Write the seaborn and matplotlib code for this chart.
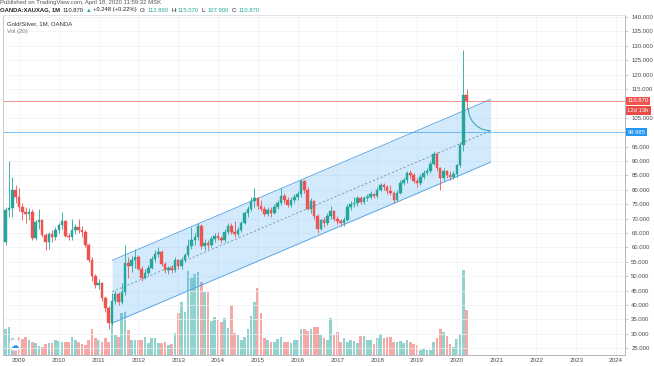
import numpy as np
import pandas as pd
import matplotlib
matplotlib.use("Agg")
import matplotlib.pyplot as plt
import matplotlib.transforms as mtransforms
import seaborn as sns

sns.set_theme(style="white")
plt.rcParams['font.family'] = ['Liberation Sans', 'DejaVu Sans']

# OANDA XAU/XAG monthly candles, Sep 2008 .. Apr 2020
start_month = '2008-09-01'

open_ = [62.0, 73.0, 73.8, 80.0,
         77.6, 74.1, 72.4, 71.6, 72.4, 63.2, 68.8, 69.4, 64.3, 62.0, 64.8, 63.6,
         66.0, 67.8, 69.0, 64.0, 63.6, 66.0, 67.2, 66.2, 65.2, 60.8, 55.6, 50.0,
         47.0, 47.8, 42.3, 39.0, 33.8, 41.5, 43.8, 41.2, 44.5, 54.5, 53.5, 55.5,
         56.8, 52.5, 49.5, 51.0, 53.0, 56.0, 57.8, 58.3, 54.2, 52.0, 52.8, 52.0,
         55.5, 53.5, 55.6, 57.3, 60.5, 62.5, 63.5, 67.5, 60.5, 61.5, 60.8, 63.0,
         64.0, 63.2, 62.5, 65.5, 67.5, 65.5, 64.5, 66.0, 68.5, 71.8, 73.5, 76.2,
         77.0, 74.5, 73.2, 71.5, 73.0, 71.8, 74.0, 75.5, 78.0, 76.5, 74.8, 76.5,
         77.5, 78.5, 83.0, 80.0, 73.5, 76.0, 71.0, 66.5, 69.5, 68.5, 71.0, 72.5,
         70.0, 69.0, 68.5, 69.5, 74.0, 75.0, 75.5, 77.0, 75.8, 77.0, 77.5, 78.5,
         77.8, 80.0, 81.5, 80.8, 79.5, 79.0, 76.5, 79.0, 82.5, 83.5, 86.0, 85.0,
         83.0, 82.3, 84.5, 86.0, 86.5, 89.0, 92.5, 87.5, 84.0, 86.5, 85.0, 84.5,
         85.5, 88.5, 95.5, 112.86]

close_ = [73.0, 73.8, 80.0, 77.6,
          74.1, 72.4, 71.6, 72.4, 63.2, 68.8, 69.4, 64.3, 62.0, 64.8, 63.6, 66.0,
          67.8, 69.0, 64.0, 63.6, 66.0, 67.2, 66.2, 65.2, 60.8, 55.6, 50.0, 47.0,
          47.8, 42.3, 39.0, 33.8, 41.5, 43.8, 41.2, 44.5, 54.5, 53.5, 55.5, 56.8,
          52.5, 49.5, 51.0, 53.0, 56.0, 57.8, 58.3, 54.2, 52.0, 52.8, 52.0, 55.5,
          53.5, 55.6, 57.3, 60.5, 62.5, 63.5, 67.5, 60.5, 61.5, 60.8, 63.0, 64.0,
          63.2, 62.5, 65.5, 67.5, 65.5, 64.5, 66.0, 68.5, 71.8, 73.5, 76.2, 77.0,
          74.5, 73.2, 71.5, 73.0, 71.8, 74.0, 75.5, 78.0, 76.5, 74.8, 76.5, 77.5,
          78.5, 83.0, 80.0, 73.5, 76.0, 71.0, 66.5, 69.5, 68.5, 71.0, 72.5, 70.0,
          69.0, 68.5, 69.5, 74.0, 75.0, 75.5, 77.0, 75.8, 77.0, 77.5, 78.5, 77.8,
          80.0, 81.5, 80.8, 79.5, 79.0, 76.5, 79.0, 82.5, 83.5, 86.0, 85.0, 83.0,
          82.3, 84.5, 86.0, 86.5, 89.0, 92.5, 87.5, 84.0, 86.5, 85.0, 84.5, 85.5,
          88.5, 95.5, 112.86, 110.87]

high_ = [74.0, 90.0, 84.5, 81.6,
         80.5, 75.5, 74.0, 73.8, 73.5, 69.5, 73.5, 70.0, 65.0, 65.5, 66.0, 67.0,
         68.5, 72.4, 69.5, 65.0, 70.0, 68.0, 70.0, 67.5, 66.0, 61.5, 56.5, 50.8,
         49.0, 48.0, 43.0, 39.8, 44.0, 45.0, 44.5, 47.5, 60.8, 56.5, 57.0, 59.5,
         57.5, 53.5, 52.5, 54.0, 57.0, 59.0, 60.0, 59.0, 55.0, 53.5, 54.0, 56.5,
         56.0, 56.5, 58.0, 63.0, 67.2, 65.0, 68.5, 68.0, 63.0, 62.5, 64.0, 65.0,
         65.5, 64.0, 66.5, 68.5, 68.5, 69.0, 67.0, 69.0, 72.5, 74.5, 77.5, 80.5,
         77.5, 76.5, 74.5, 74.0, 74.2, 75.0, 76.5, 80.5, 79.0, 77.5, 77.5, 78.5,
         79.5, 83.8, 83.5, 81.0, 77.0, 76.5, 71.5, 70.0, 70.5, 72.0, 74.5, 73.0,
         71.0, 70.0, 70.5, 75.0, 76.0, 77.5, 78.0, 77.8, 78.0, 78.5, 79.5, 79.0,
         81.0, 82.5, 82.2, 81.5, 81.6, 79.5, 80.0, 83.5, 84.5, 86.5, 87.0, 86.0,
         84.0, 85.5, 86.8, 87.5, 90.0, 93.5, 93.0, 88.0, 87.5, 87.0, 86.5, 86.5,
         89.0, 96.5, 128.5, 115.07]

low_ = [61.0, 70.5, 70.7, 75.5,
        72.5, 69.5, 68.3, 69.5, 62.5, 62.5, 66.5, 63.5, 59.1, 59.5, 62.0, 62.5,
        65.0, 66.5, 63.5, 62.5, 62.5, 64.5, 65.0, 63.5, 60.0, 55.0, 48.5, 46.0,
        45.5, 41.5, 37.5, 31.5, 33.0, 40.5, 40.0, 40.5, 43.5, 49.5, 51.5, 53.0,
        52.0, 48.5, 49.0, 50.5, 52.5, 55.0, 56.5, 53.5, 51.0, 50.8, 51.0, 51.5,
        52.5, 52.5, 55.0, 56.5, 59.5, 61.0, 62.5, 59.5, 59.0, 59.5, 60.0, 62.0,
        62.5, 61.5, 62.0, 64.5, 64.8, 63.5, 63.8, 65.5, 68.0, 70.5, 72.5, 74.0,
        73.5, 72.5, 70.8, 71.0, 70.5, 71.5, 73.5, 74.8, 75.5, 74.0, 74.0, 75.5,
        76.5, 77.5, 79.0, 73.0, 72.0, 70.0, 65.0, 66.0, 67.0, 67.8, 70.0, 69.0,
        68.0, 67.5, 67.5, 69.0, 73.0, 74.0, 74.5, 75.0, 75.0, 76.0, 76.8, 77.0,
        77.0, 79.5, 79.8, 78.5, 78.2, 75.3, 76.0, 78.5, 81.5, 82.5, 84.0, 82.5,
        81.0, 81.5, 83.8, 85.0, 86.0, 88.5, 86.5, 79.9, 83.0, 84.0, 83.5, 83.8,
        84.5, 88.0, 93.5, 107.9]

volume = [26, 28, 17, 15,
          18, 16, 18, 15, 13, 12, 9, 8, 11, 12, 12, 15,
          14, 13, 13, 13, 18, 15, 13, 11, 10, 15, 26, 17,
          15, 13, 17, 13, 35, 20, 18, 42, 43, 25, 15, 15,
          15, 15, 18, 12, 17, 17, 12, 12, 13, 10, 11, 22,
          42, 53, 43, 84, 77, 81, 83, 73, 63, 63, 34, 38,
          35, 33, 37, 27, 50, 22, 20, 15, 18, 26, 39, 53,
          67, 42, 17, 15, 13, 13, 16, 18, 13, 13, 12, 15,
          15, 26, 26, 24, 26, 28, 28, 20, 17, 15, 37, 20,
          23, 13, 17, 13, 15, 14, 12, 19, 19, 15, 15, 11,
          17, 21, 17, 18, 18, 13, 13, 14, 12, 15, 13, 11,
          10, 5, 6, 5, 5, 13, 17, 26, 23, 19, 11, 8,
          16, 21, 85, 45]

years = list(range(2009, 2025))
price_ticks = [t for t in range(25, 141, 5) if t not in (100, 110)]

last_price = 110.870
level_price = 99.985
countdown = '12d 13h'

# hand-drawn regression channel and arc on the chart
chan_t = [2011.34, 2020.85]
chan_mid = [44.6, 100.5]
chan_half = 10.9
arc_start = (2020.29, 108.3)
arc_end = (2020.85, 100.5)

UP, DOWN, BLUE = '#26a69a', '#ef5350', '#2196f3'

months = pd.date_range(start_month, periods=len(close_), freq='MS')
df = pd.DataFrame({
    't': months.year + (months.month - 1) / 12,
    'open': open_, 'close': close_, 'high': high_, 'low': low_, 'vol': volume,
})
df['dir'] = np.where(df['close'] >= df['open'], 'up', 'down')
colors = df['dir'].map({'up': UP, 'down': DOWN})

W, H = 654, 366
fig = plt.figure(figsize=(W / 100, H / 100), dpi=100)
rect = [3 / W, 11 / H, 622 / W, 340 / H]
xlim = (2008.598, 2024.226)

# volume pane underneath
ax_vol = fig.add_axes(rect)
sns.barplot(data=df, x='t', y='vol', hue='dir', palette={'up': UP, 'down': DOWN},
            native_scale=True, dodge=False, width=0.8, errorbar=None, legend=False,
            saturation=1, alpha=0.5, linewidth=0, ax=ax_vol)
ax_vol.set_xlim(xlim)
ax_vol.set_ylim(0, 340)
ax_vol.set_axis_off()

# price pane
ax = fig.add_axes(rect)
ax.patch.set_visible(False)
ax.set_xlim(xlim)
ax.set_ylim(22.64, 140.69)

ax.set_yticks(price_ticks)
ax.set_yticklabels([f'{v:.3f}' for v in price_ticks])
ax.yaxis.tick_right()
ax.set_xticks(years)
ax.set_xticklabels([str(y) for y in years])
ax.tick_params(axis='y', labelsize=4.3, length=2, width=0.5, pad=2.5,
               color='#b2b5be', labelcolor='#4a4a4a')
ax.tick_params(axis='x', labelsize=4.5, length=0, pad=2.5, labelcolor='#4a4a4a')
ax.grid(True, color='#eef1f6', lw=0.5)
ax.set_axisbelow(True)
for side, c in [('left', '#c3c6ce'), ('top', '#dfe2e8'), ('right', '#b2b5be'), ('bottom', '#b2b5be')]:
    ax.spines[side].set_color(c)
    ax.spines[side].set_linewidth(0.7)
ax.set_xlabel('')
ax.set_ylabel('')

# channel
ct = np.array(chan_t)
cm = np.array(chan_mid)
ax.fill_between(ct, cm - chan_half, cm + chan_half, color=BLUE, alpha=0.2, lw=0, zorder=1)
ax.plot(ct, cm + chan_half, color='#4f9fe3', lw=0.6, zorder=2)
ax.plot(ct, cm - chan_half, color='#4f9fe3', lw=0.6, zorder=2)
ax.plot(ct, cm, color='#6f8fae', lw=0.6, ls=(0, (2.5, 2.5)), zorder=2)

# horizontal lines
ax.axhline(last_price, color=DOWN, lw=0.6, alpha=0.75, zorder=2)
ax.axhline(level_price, color=BLUE, lw=0.6, alpha=0.7, zorder=2)

# arc drawing
th = np.linspace(0, np.pi / 2, 40)
ax.plot(arc_end[0] - (arc_end[0] - arc_start[0]) * np.cos(th),
        arc_start[1] - (arc_start[1] - arc_end[1]) * np.sin(th),
        color='#33adbf', lw=0.8, zorder=3)

# candles
ax.vlines(df['t'], df['low'], df['high'], colors=colors, lw=0.6, zorder=4)
body_lo = df[['open', 'close']].min(axis=1)
body_h = (df['close'] - df['open']).abs()
ax.bar(df['t'], body_h, bottom=body_lo, width=0.064, color=colors,
       edgecolor=colors, linewidth=0.3, zorder=5)

# price-scale labels
trans = mtransforms.blended_transform_factory(ax.transAxes, ax.transData)
for val, txt, fc in [(last_price, '110.870', DOWN), (107.6, countdown, '#e84b48'),
                     (level_price, '99.985', BLUE)]:
    ax.text(1.004, val, txt, transform=trans, ha='left', va='center', fontsize=4.2,
            color='white', clip_on=False, zorder=10,
            bbox=dict(boxstyle='square,pad=0.3', fc=fc, ec='none'))


def fx(x):
    return x / W


def fy(y):
    return 1 - y / H


# header
fig.text(fx(0), fy(2.5), 'Published on TradingView.com, April 18, 2020 11:59:32 MSK',
         fontsize=4.3, color='#555555', va='center')

renderer = fig.canvas.get_renderer()
header = [('OANDA:XAUXAG, 1M', '#222222', 'bold', 3),
          ('110.870', '#222222', 'normal', 2),
          ('\u25b2', UP, 'normal', 1.5),
          ('+0.248 (+0.22%)', '#222222', 'normal', 3),
          ('O:', '#222222', 'normal', 1), ('112.860', UP, 'normal', 3),
          ('H:', '#222222', 'normal', 1), ('115.070', UP, 'normal', 3),
          ('L:', '#222222', 'normal', 1), ('107.900', UP, 'normal', 3),
          ('C:', '#222222', 'normal', 1), ('110.870', UP, 'normal', 0)]
cur = 0.0
for txt, col, weight, gap in header:
    t = fig.text(fx(cur), fy(10), txt, fontsize=4.2, color=col, fontweight=weight,
                 va='center', family=['Liberation Sans', 'DejaVu Sans'])
    bb = t.get_window_extent(renderer)
    cur += bb.width + gap

# pane legend
fig.text(fx(7), fy(23.5), 'Gold/Silver, 1M, OANDA', fontsize=4.3, color='#333333', va='center')
fig.text(fx(7), fy(31), 'Vol (20)', fontsize=4.3, color='#777777', va='center')

# small logo
fig.text(fx(15), fy(345), '\u2601', fontsize=6, color=BLUE, ha='center', va='center',
         family=['DejaVu Sans'],
         bbox=dict(boxstyle='circle,pad=0.15', fc='white', ec='#dfe2e8', lw=0.5))

fig.savefig('out.png', dpi=100)
